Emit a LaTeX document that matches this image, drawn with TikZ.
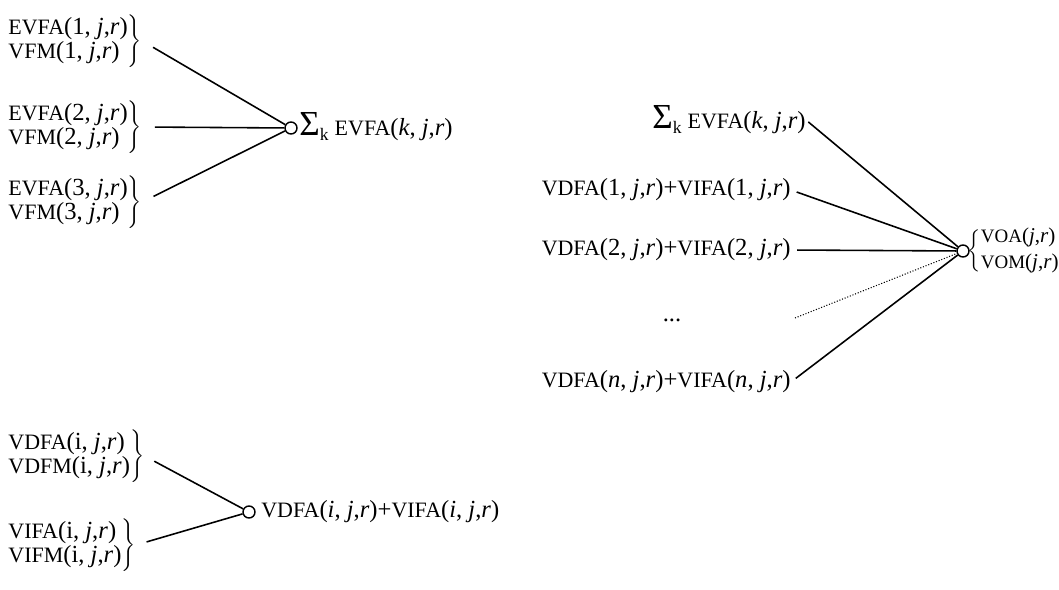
\documentclass[tikz,border=0pt]{standalone}
\usepackage{fontspec}
\setmainfont{Liberation Serif}
\usetikzlibrary{positioning}
% variable names are set a little smaller than the arguments
\newcommand\vname[1]{{\fontsize{12.5}{14}\selectfont #1}}
\newcommand\vnamesm[1]{{\fontsize{10.8}{12}\selectfont #1}}
\newcommand\jr{\textit{j},\textit{r}}
\newcommand\sumk{{\fontsize{20}{20}\selectfont Σ}\raisebox{-2.5pt}{\fontsize{10}{10}\selectfont k}}
\renewcommand\arraystretch{0.85}

\begin{document}
\begin{tikzpicture}[x=0.02cm,y=-0.02cm,
  lab/.style={inner sep=0pt,font=\fontsize{14}{15}\selectfont},
  junction/.style={circle,draw,line width=0.8pt,minimum size=0.24cm,inner sep=0pt},
  link/.style={line width=0.9pt},
  faint link/.style={line width=0.6pt,densely dotted}
]
\useasboundingbox (0,0) rectangle (1059,589);

% sum of the export values over k
\node[lab,anchor=west] (e1) at (6,41) {$\left.\begin{tabular}{@{}l@{}}\vname{EVFA}(1, \jr)\\ \vname{VFM}(1, \jr)\end{tabular}\right\}$};
\node[lab,anchor=west] (e2) at (6,127) {$\left.\begin{tabular}{@{}l@{}}\vname{EVFA}(2, \jr)\\ \vname{VFM}(2, \jr)\end{tabular}\right\}$};
\node[lab,anchor=west] (e3) at (6,202) {$\left.\begin{tabular}{@{}l@{}}\vname{EVFA}(3, \jr)\\ \vname{VFM}(3, \jr)\end{tabular}\right\}$};
\node[junction] (sk) at (291,128) {};
\node[lab,anchor=west] (sklab) at (299,127) {\sumk\ \vname{EVFA}(\textit{k}, \jr)};
\draw[link,shorten <=0.25cm] (e1.east) -- (sk);
\draw[link,shorten <=0.25cm] (e2.east) -- (sk);
\draw[link,shorten <=0.25cm] (e3.east) -- (sk);

% output of sector j in region r
\node[lab,anchor=east] (r0) at (806,120) {\sumk\ \vname{EVFA}(\textit{k}, \jr)};
\node[lab,anchor=east] (r1) at (791,190) {\vname{VDFA}(1, \jr)+\vname{VIFA}(1, \jr)};
\node[lab,anchor=east] (r2) at (791,250) {\vname{VDFA}(2, \jr)+\vname{VIFA}(2, \jr)};
\node[lab] (dots) at (672,320) {...};
\coordinate (rdots) at (795,318);
\node[lab,anchor=east] (rn) at (791,382) {\vname{VDFA}(\textit{n}, \jr)+\vname{VIFA}(\textit{n}, \jr)};
\node[junction] (vo) at (963,251) {};
\node[lab,anchor=east,font=\fontsize{12}{13.5}\selectfont] (volab) at (1059,251) {$\left\{\begin{tabular}{@{}l@{}}\vnamesm{VOA}(\jr)\\[3pt] \vnamesm{VOM}(\jr)\end{tabular}\right.\kern-\nulldelimiterspace$};
\draw[link,shorten <=0.06cm] (r0.east) -- (vo);
\draw[link,shorten <=0.12cm] (r1.east) -- (vo);
\draw[link,shorten <=0.12cm] (r2.east) -- (vo);
\draw[faint link] (rdots) -- (vo);
\draw[link,shorten <=0.12cm] (rn.east) -- (vo);

% domestic plus imported use
\node[lab,anchor=west] (d1) at (6,456) {$\left.\begin{tabular}{@{}l@{}}\vname{VDFA}(i, \jr)\\ \vname{VDFM}(i, \jr)\end{tabular}\right\}$};
\node[lab,anchor=west] (d2) at (6,545) {$\left.\begin{tabular}{@{}l@{}}\vname{VIFA}(i, \jr)\\ \vname{VIFM}(i, \jr)\end{tabular}\right\}$};
\node[junction] (di) at (249,512) {};
\node[lab,anchor=west] (dilab) at (261,512) {\vname{VDFA}(\textit{i}, \jr)+\vname{VIFA}(\textit{i}, \jr)};
\draw[link,shorten <=0.22cm] (d1.east) -- (di);
\draw[link,shorten <=0.22cm] (d2.east) -- (di);
\end{tikzpicture}
\end{document}
